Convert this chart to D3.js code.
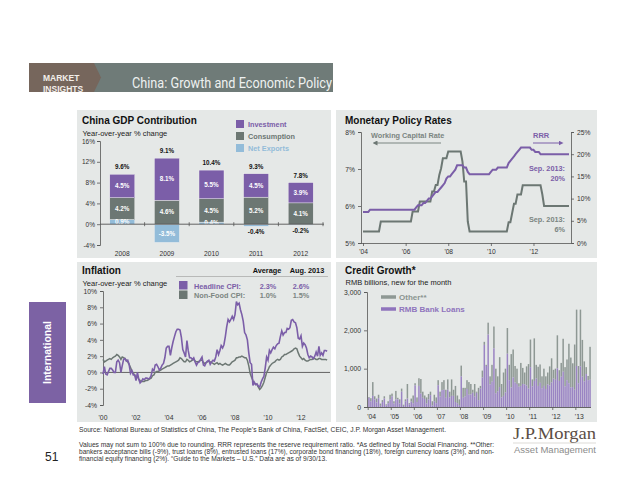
<!DOCTYPE html>
<html><head><meta charset="utf-8">
<script src="https://cdn.jsdelivr.net/npm/d3@7"></script>
<style>
body{margin:0;background:#fff}
svg{display:block;font-family:"Liberation Sans",Arial,sans-serif}
</style>
</head><body>
<svg id="c" width="640" height="495"></svg>
<script>
// ---------------- DATA ----------------
const gdpYears = ["2008","2009","2010","2011","2012"];
const gdpInvestment = [4.5, 8.1, 5.5, 4.5, 3.9];
const gdpConsumption = [4.2, 4.6, 4.5, 5.2, 4.1];
const gdpNetExports = [0.9, -3.5, 0.4, -0.4, -0.2];
const gdpTotal = [9.6, 9.1, 10.4, 9.3, 7.8];
const gdpTicks = [-4, 0, 4, 8, 12, 16];
const gdpLegend = ["Investment", "Consumption", "Net Exports"];

const wcrDates = ["2004-01","2004-10","2004-11","2006-04","2006-05","2006-08","2006-09","2007-03","2007-04","2007-05","2007-06","2007-07","2007-08","2007-09","2007-10","2007-12","2008-01","2008-08","2008-09","2008-10","2008-11","2008-12","2009-01","2010-10","2010-11","2010-12","2011-01","2011-02","2011-03","2011-04","2011-06","2011-07","2012-05","2012-06","2012-07","2013-09"];
const wcrRates = [5.31,5.31,5.58,5.58,5.85,5.85,6.12,6.12,6.39,6.39,6.57,6.57,6.84,7.02,7.29,7.29,7.47,7.47,7.20,6.66,6.66,5.58,5.31,5.31,5.56,5.56,5.81,6.06,6.06,6.31,6.31,6.56,6.56,6.31,6.00,6.00];
const rrrDates = ["2004-01","2004-04","2004-05","2006-06","2006-07","2006-08","2006-10","2006-11","2006-12","2007-01","2007-02","2007-03","2007-04","2007-05","2007-06","2007-07","2007-08","2007-09","2007-10","2007-11","2007-12","2008-01","2008-02","2008-03","2008-04","2008-05","2008-06","2008-09","2008-10","2008-11","2008-12","2009-01","2009-12","2010-01","2010-02","2010-04","2010-05","2010-10","2010-11","2010-12","2011-01","2011-02","2011-03","2011-04","2011-05","2011-06","2011-11","2011-12","2012-01","2012-02","2012-04","2012-05","2013-09"];
const rrrRates = [7.0,7.0,7.5,7.5,8.0,8.5,8.5,9.0,9.0,9.5,10.0,10.0,10.5,11.0,11.5,11.5,12.0,12.5,13.0,13.5,14.5,15.0,15.0,15.5,16.0,16.5,17.5,17.5,17.0,17.0,16.0,15.5,15.5,16.0,16.5,16.5,17.0,17.0,18.0,18.5,19.0,19.5,20.0,20.5,21.0,21.5,21.5,21.0,21.0,20.5,20.5,20.0,20.0];
const rateLeftTicks = [5, 6, 7, 8];
const rateRightTicks = [0, 5, 10, 15, 20, 25];
const rateYearTicks = ["'04","'06","'08","'10","'12"];

// monthly, Jan 2000 .. Aug 2013
const cpiStart = "2000-01";
const cpiHeadline = [
 -0.2,0.7,-0.2,-0.3,0.1,0.5,0.5,0.3,0.0,0.0,1.3,1.5,
 1.2,0.0,0.8,1.6,1.7,1.4,1.5,1.0,-0.1,0.2,-0.3,-0.3,
 -1.0,0.0,-0.8,-1.3,-1.1,-0.8,-0.9,-0.7,-0.7,-0.8,-0.7,-0.4,
 0.4,0.2,0.9,1.0,0.7,0.3,0.5,0.9,1.1,1.8,3.0,3.2,
 3.2,2.1,3.0,3.8,4.4,5.0,5.3,5.3,5.2,4.3,2.8,2.4,
 1.9,3.9,2.7,1.8,1.8,1.6,1.8,1.3,0.9,1.2,1.3,1.6,
 1.9,0.9,0.8,1.2,1.4,1.5,1.0,1.3,1.5,1.4,1.9,2.8,
 2.2,2.7,3.3,3.0,3.4,4.4,5.6,6.5,6.2,6.5,6.9,6.5,
 7.1,8.7,8.3,8.5,7.7,7.1,6.3,4.9,4.6,4.0,2.4,1.2,
 1.0,-1.6,-1.2,-1.5,-1.4,-1.7,-1.8,-1.2,-0.8,-0.5,0.6,1.9,
 1.5,2.7,2.4,2.8,3.1,2.9,3.3,3.5,3.6,4.4,5.1,4.6,
 4.9,4.9,5.4,5.3,5.5,6.4,6.5,6.2,6.1,5.5,4.2,4.1,
 4.5,3.2,3.6,3.4,3.0,2.2,1.8,2.0,1.9,1.7,2.0,2.5,
 2.0,3.2,2.1,2.4,2.1,2.7,2.7,2.6];
const cpiNonFood = [
 1.6,1.3,1.4,1.5,1.6,1.7,1.6,1.8,1.9,2.0,2.2,2.1,
 1.9,1.6,1.9,1.8,1.7,1.5,1.3,1.0,0.6,0.2,-0.1,-0.3,
 -0.6,-0.5,-0.8,-1.0,-1.1,-1.1,-1.1,-1.0,-1.0,-0.9,-0.8,-0.7,
 -0.4,-0.3,0.0,0.1,0.1,0.2,0.3,0.4,0.5,0.6,0.7,0.8,
 0.8,0.9,1.0,1.1,1.2,1.3,1.4,1.5,1.8,1.7,1.5,1.3,
 1.3,1.6,1.5,1.3,1.4,1.5,1.6,1.4,1.3,1.3,1.4,1.5,
 1.5,1.2,1.1,1.2,1.3,1.4,1.3,1.2,1.1,1.0,1.1,1.2,
 1.0,1.1,1.0,0.9,1.0,1.1,1.0,0.9,0.9,1.1,1.3,1.4,
 1.5,1.8,1.8,1.9,1.9,2.0,1.9,1.8,1.8,1.5,0.8,-0.1,
 -0.6,-1.0,-1.3,-1.4,-1.5,-1.8,-2.1,-1.9,-1.6,-1.2,-0.6,0.0,
 0.3,0.7,0.9,1.1,1.2,1.3,1.5,1.6,1.5,1.6,1.9,2.0,
 2.2,2.2,2.3,2.4,2.5,2.6,2.7,2.9,3.0,2.9,2.4,2.0,
 1.8,1.6,1.7,1.5,1.4,1.4,1.5,1.6,1.6,1.7,1.7,1.6,
 1.6,1.7,1.7,1.6,1.6,1.6,1.6,1.5];
const cpiTicks = [-4,-2,0,2,4,6,8,10];
const cpiYearTicks = ["'00","'02","'04","'06","'08","'10","'12"];
const cpiLegendNames = ["Headline CPI:", "Non-Food CPI:"];
const cpiAverage = ["2.3%", "1.0%"];
const cpiLatest = ["2.6%", "1.5%"];

// monthly, Jan 2004 .. Aug 2013, RMB bn
const creditStart = "2004-01";
const bankLoans = [
 240,150,290,200,120,230,30,130,220,40,100,200,
 280,90,200,200,90,400,30,150,220,70,140,100,
 565,130,550,350,240,210,90,200,310,40,150,100,
 570,270,440,450,240,450,250,290,290,130,100,50,
 800,240,280,470,320,330,370,270,370,180,480,770,
 1620,1070,1890,590,660,1530,360,410,520,250,290,380,
 1390,700,510,770,640,600,530,550,600,590,560,480,
 1040,540,680,740,550,630,490,550,470,590,560,640,
 740,710,1010,680,790,920,540,700,620,510,520,450,
 1070,620,1060,790,670,860,700,710];
const otherFinancing = [
 20,80,360,80,100,90,60,50,60,30,50,120,
 70,60,220,40,110,80,30,50,380,30,80,200,
 55,120,200,380,160,90,160,140,90,110,170,150,
 130,130,210,250,210,270,150,430,160,420,200,150,
 280,260,220,230,330,270,80,330,30,320,70,180,
 80,30,310,210,440,570,640,390,780,350,610,620,
 670,400,870,730,430,400,90,600,420,310,500,640,
 720,180,1110,360,500,480,310,450,330,310,500,630,
 230,290,860,280,360,860,500,540,1030,780,620,1180,
 1470,450,1480,960,520,180,110,860];
const creditTicks = [0,1000,2000,3000];
const creditYearTicks = ["'04","'05","'06","'07","'08","'09","'10","'11","'12","'13"];
const creditLegend = ["Other**", "RMB Bank Loans"];

// ---------------- STYLE ----------------
const PURPLE = "#7b5ea8", GREY = "#6c7773", LBLUE = "#93bcd9";
const BPURPLE = "#9a84c3", BGREY = "#8e9894";
const PANEL = "#e5e8e7", AX = "#555", TXT = "#333";

const svg = d3.select("#c");
const parseM = d3.timeParse("%Y-%m");

function styleAxis(g, fs) {
  g.attr("font-family", null).attr("font-size", fs);
  g.selectAll("text").attr("fill", TXT);
  g.selectAll("line").attr("stroke", AX).attr("stroke-width", 0.8);
  g.select(".domain").attr("stroke", AX).attr("stroke-width", 0.8);
}

// ---------------- HEADER ----------------
svg.append("clipPath").attr("id","hdr").append("rect").attr("x",29).attr("y",63).attr("width",304).attr("height",29);
const hdr = svg.append("g").attr("clip-path","url(#hdr)");
hdr.append("rect").attr("x",90).attr("y",63).attr("width",243).attr("height",29).attr("fill","#6f7b78");
hdr.append("polygon").attr("points","29,63 94,63 101,77.5 94,92 29,92").attr("fill","#76665c");
hdr.append("text").attr("x",43).attr("y",80.5).attr("font-size",8.5).attr("font-weight","bold").attr("fill","#f3eee9").text("MARKET");
hdr.append("text").attr("x",43).attr("y",91.5).attr("font-size",8.5).attr("font-weight","bold").attr("fill","#f3eee9").text("INSIGHTS");
hdr.append("text").attr("x",132).attr("y",88).attr("font-size",15)
  .attr("font-family","'Liberation Sans Narrow',Roboto,sans-serif")
  .attr("textLength",200).attr("lengthAdjust","spacingAndGlyphs")
  .attr("fill","#eef1f0").text("China: Growth and Economic Policy");

// side tab
svg.append("rect").attr("x",29).attr("y",302).attr("width",37).attr("height",101).attr("fill","#7c62a4");
svg.append("text").attr("transform","translate(51,352.5) rotate(-90)").attr("text-anchor","middle")
  .attr("font-size",10.5).attr("font-weight","bold").attr("fill","#fff").text("International");

// panels
[[77,110,254,148],[336,110,261,148],[77,262,254,160],[336,262,261,160]].forEach(p=>{
  svg.append("rect").attr("x",p[0]).attr("y",p[1]).attr("width",p[2]).attr("height",p[3]).attr("fill",PANEL);
});

function titles(x, y, t, s, sy) {
  svg.append("text").attr("x",x).attr("y",y).attr("font-size",10).attr("font-weight","bold").attr("fill","#111").text(t);
  if (s) svg.append("text").attr("x",x+0.5).attr("y",sy).attr("font-size",7.5).attr("fill","#222").text(s);
}

// ---------------- PANEL 1: GDP ----------------
titles(82, 124, "China GDP Contribution", "Year-over-year % change", 135.5);
{
  const x = d3.scaleBand().domain(gdpYears).range([100,323]).paddingInner(0.44).paddingOuter(0.22);
  const y = d3.scaleLinear().domain([-4,16]).range([245,141]);
  const g = svg.append("g");
  gdpYears.forEach((yr,i)=>{
    const ne = gdpNetExports[i], c = gdpConsumption[i], inv = gdpInvestment[i];
    const base = ne > 0 ? ne : 0;
    const segs = [
      {lo: Math.min(0,ne), hi: Math.max(0,ne), col: LBLUE, v: ne},
      {lo: base, hi: base + c, col: GREY, v: c},
      {lo: base + c, hi: base + c + inv, col: PURPLE, v: inv}
    ];
    segs.forEach(s=>{
      g.append("rect").attr("x",x(yr)).attr("width",x.bandwidth())
        .attr("y",y(s.hi)).attr("height",y(s.lo)-y(s.hi)).attr("fill",s.col)
        .attr("stroke","#f4f4f4").attr("stroke-width",0.4);
    });
    const cx = x(yr) + x.bandwidth()/2;
    const lab = (yy, txt, col) => g.append("text").attr("x",cx).attr("y",yy).attr("text-anchor","middle")
      .attr("font-size",6.3).attr("font-weight","bold").attr("fill",col).text(txt);
    lab(y((segs[2].lo+segs[2].hi)/2)+2.2, inv.toFixed(1)+"%", "#fff");
    lab(y((segs[1].lo+segs[1].hi)/2)+2.2, c.toFixed(1)+"%", "#fff");
    if (ne > 0) lab(y(ne/2)+2.2, ne.toFixed(1)+"%", "#fff");
    else if (ne < -1) lab(y(ne/2)+2.2, ne.toFixed(1)+"%", "#fff");
    else lab(y(ne)+7.5, ne.toFixed(1)+"%", "#111");
    lab(y(segs[2].hi)-5, gdpTotal[i].toFixed(1)+"%", "#111");
  });
  const ya = svg.append("g").attr("transform","translate(100,0)")
    .call(d3.axisLeft(y).tickValues(gdpTicks).tickSize(3).tickPadding(2).tickFormat(d=>d+"%"));
  styleAxis(ya, 6.5);
  // zero axis
  svg.append("line").attr("x1",100).attr("x2",324).attr("y1",y(0)).attr("y2",y(0)).attr("stroke",AX).attr("stroke-width",0.9);
  const step = x.step();
  d3.range(1,6).forEach(k=>{
    const tx = 100 + k*step;
    svg.append("line").attr("x1",tx).attr("x2",tx).attr("y1",y(0)-2).attr("y2",y(0)+2).attr("stroke",AX).attr("stroke-width",0.8);
  });
  gdpYears.forEach(yr=>{
    svg.append("text").attr("x",x(yr)+x.bandwidth()/2).attr("y",256).attr("text-anchor","middle")
      .attr("font-size",6.7).attr("fill",TXT).text(yr);
  });
  // legend
  const lc = [PURPLE, GREY, LBLUE];
  gdpLegend.forEach((n,i)=>{
    svg.append("rect").attr("x",236).attr("y",120+i*12).attr("width",8).attr("height",8).attr("fill",lc[i]);
    svg.append("text").attr("x",248).attr("y",127+i*12).attr("font-size",7.3).attr("font-weight","bold").attr("fill",lc[i]).text(n);
  });
}

// ---------------- PANEL 2: MONETARY ----------------
titles(345, 124, "Monetary Policy Rates");
{
  const x = d3.scaleTime().domain([parseM("2004-01"), parseM("2013-09")]).range([363,569]);
  const yl = d3.scaleLinear().domain([5,8]).range([243,132]);
  const yr = d3.scaleLinear().domain([0,25]).range([243,132]);
  const la = svg.append("g").attr("transform","translate(361,0)")
    .call(d3.axisLeft(yl).tickValues(rateLeftTicks).tickSize(3).tickPadding(3).tickFormat(d=>d+"%"));
  styleAxis(la, 6.7);
  const ra = svg.append("g").attr("transform","translate(571,0)")
    .call(d3.axisRight(yr).tickValues(rateRightTicks).tickSize(3).tickPadding(3).tickFormat(d=>d+"%"));
  styleAxis(ra, 6.7);
  const yearDates = rateYearTicks.map(t=>parseM("20"+t.slice(1)+"-01"));
  const ba = svg.append("g").attr("transform","translate(0,243)")
    .call(d3.axisBottom(x).tickValues(yearDates).tickSize(3).tickPadding(3).tickFormat((d,i)=>rateYearTicks[i]));
  styleAxis(ba, 6.7);
  ba.select(".domain").attr("d","M361,0.5H571");
  const lineL = d3.line().x(d=>x(d[0])).y(d=>yl(d[1]));
  const lineR = d3.line().x(d=>x(d[0])).y(d=>yr(d[1]));
  svg.append("path").datum(wcrDates.map((d,i)=>[parseM(d), wcrRates[i]]))
    .attr("d",lineL).attr("fill","none").attr("stroke",GREY).attr("stroke-width",2);
  svg.append("path").datum(rrrDates.map((d,i)=>[parseM(d), rrrRates[i]]))
    .attr("d",lineR).attr("fill","none").attr("stroke",PURPLE).attr("stroke-width",2);
  // annotations
  svg.append("defs").html(
    '<marker id="ag" viewBox="0 0 10 10" refX="5" refY="5" markerWidth="5" markerHeight="5" orient="auto-start-reverse"><path d="M0,0L10,5L0,10z" fill="'+GREY+'"/></marker>'+
    '<marker id="ap" viewBox="0 0 10 10" refX="5" refY="5" markerWidth="5" markerHeight="5" orient="auto-start-reverse"><path d="M0,0L10,5L0,10z" fill="'+PURPLE+'"/></marker>');
  svg.append("text").attr("x",371).attr("y",137.5).attr("font-size",7.3).attr("font-weight","bold").attr("fill","#7b8581").text("Working Capital Rate");
  svg.append("line").attr("x1",441).attr("x2",375).attr("y1",143).attr("y2",143).attr("stroke","#7b8581").attr("stroke-width",1).attr("marker-end","url(#ag)");
  svg.append("text").attr("x",533).attr("y",137.5).attr("font-size",7.5).attr("font-weight","bold").attr("fill",PURPLE).text("RRR");
  svg.append("line").attr("x1",533).attr("x2",561).attr("y1",143).attr("y2",143).attr("stroke",PURPLE).attr("stroke-width",1).attr("marker-end","url(#ap)");
  const ann = (yy, t, c) => svg.append("text").attr("x",565).attr("y",yy).attr("text-anchor","end")
    .attr("font-size",7.3).attr("font-weight","bold").attr("fill",c).text(t);
  ann(170.5, "Sep. 2013:", PURPLE); ann(180.5, "20%", PURPLE);
  ann(221.5, "Sep. 2013:", "#7b8581"); ann(231.5, "6%", "#7b8581");
}

// ---------------- PANEL 3: INFLATION ----------------
titles(82, 274, "Inflation", "Year-over-year % change", 285.5);
{
  const t0 = parseM(cpiStart);
  const months = cpiHeadline.map((_,i)=>d3.timeMonth.offset(t0, i));
  const x = d3.scaleTime().domain([parseM("2000-01"), parseM("2012-01")]).range([103,301]);
  const y = d3.scaleLinear().domain([-4,10]).range([405,291]);
  const ya = svg.append("g").attr("transform","translate(103,0)")
    .call(d3.axisLeft(y).tickValues(cpiTicks).tickSize(3).tickPadding(3).tickFormat(d=>d+"%"));
  styleAxis(ya, 6.8);
  svg.append("line").attr("x1",103).attr("x2",330).attr("y1",y(0)).attr("y2",y(0)).attr("stroke",AX).attr("stroke-width",0.9);
  cpiYearTicks.forEach(t=>{
    svg.append("text").attr("x",x(parseM("20"+t.slice(1)+"-01"))).attr("y",420).attr("text-anchor","middle")
      .attr("font-size",6.8).attr("fill",TXT).text(t);
  });
  const line = d3.line().x((d,i)=>x(months[i])).y(d=>y(d));
  svg.append("path").datum(cpiNonFood).attr("d",line).attr("fill","none").attr("stroke",GREY).attr("stroke-width",1.5);
  svg.append("path").datum(cpiHeadline).attr("d",line).attr("fill","none").attr("stroke",PURPLE).attr("stroke-width",1.6);
  // legend table
  svg.append("text").attr("x",267).attr("y",272.5).attr("text-anchor","middle").attr("font-size",7.3).attr("font-weight","bold").attr("fill","#111").text("Average");
  svg.append("text").attr("x",307).attr("y",272.5).attr("text-anchor","middle").attr("font-size",7.3).attr("font-weight","bold").attr("fill","#111").text("Aug. 2013");
  svg.append("line").attr("x1",176).attr("x2",328).attr("y1",276.5).attr("y2",276.5).attr("stroke","#999").attr("stroke-width",0.6);
  const cols = [PURPLE, "#7b8581"];
  cpiLegendNames.forEach((n,i)=>{
    const yy = 288.5 + i*9.5;
    svg.append("rect").attr("x",179).attr("y",yy-7.5).attr("width",8.5).attr("height",8.5).attr("fill",i?GREY:PURPLE);
    svg.append("text").attr("x",194).attr("y",yy).attr("font-size",7.3).attr("font-weight","bold").attr("fill",cols[i]).text(n);
    svg.append("text").attr("x",268).attr("y",yy).attr("text-anchor","middle").attr("font-size",7.3).attr("font-weight","bold").attr("fill",cols[i]).text(cpiAverage[i]);
    svg.append("text").attr("x",301).attr("y",yy).attr("text-anchor","middle").attr("font-size",7.3).attr("font-weight","bold").attr("fill",cols[i]).text(cpiLatest[i]);
  });
}

// ---------------- PANEL 4: CREDIT ----------------
titles(345, 274, "Credit Growth*", "RMB billions, new for the month", 285);
{
  const t0 = parseM(creditStart);
  const months = bankLoans.map((_,i)=>d3.timeMonth.offset(t0, i));
  const x = d3.scaleBand().domain(months.map(d=>+d)).range([368,591]).paddingInner(0.22).paddingOuter(0.1);
  const y = d3.scaleLinear().domain([0,3000]).range([407,292]);
  const g = svg.append("g");
  months.forEach((m,i)=>{
    const lo = bankLoans[i], ot = otherFinancing[i];
    g.append("rect").attr("x",x(+m)).attr("width",x.bandwidth()).attr("y",y(lo+ot)).attr("height",y(lo)-y(lo+ot)).attr("fill",BGREY);
    g.append("rect").attr("x",x(+m)).attr("width",x.bandwidth()).attr("y",y(lo)).attr("height",y(0)-y(lo)).attr("fill",BPURPLE);
  });
  const ya = svg.append("g").attr("transform","translate(367,0)")
    .call(d3.axisLeft(y).tickValues(creditTicks).tickSize(3).tickPadding(3).tickFormat(d3.format(",")));
  styleAxis(ya, 6.8);
  svg.append("line").attr("x1",367).attr("x2",591).attr("y1",407.5).attr("y2",407.5).attr("stroke",AX).attr("stroke-width",0.9);
  creditYearTicks.forEach(t=>{
    const xx = x(+parseM("20"+t.slice(1)+"-01"));
    svg.append("line").attr("x1",xx).attr("x2",xx).attr("y1",407.5).attr("y2",410).attr("stroke",AX).attr("stroke-width",0.8);
    svg.append("text").attr("x",xx-1).attr("y",419).attr("font-size",6.8).attr("fill",TXT).text(t);
  });
  const lc = [BGREY, "#8f74bd"], tc = ["#8a9490", "#8f74bd"];
  creditLegend.forEach((n,i)=>{
    const yy = 297 + i*12;
    svg.append("line").attr("x1",381).attr("x2",396).attr("y1",yy).attr("y2",yy).attr("stroke",lc[i]).attr("stroke-width",3.5);
    svg.append("text").attr("x",399).attr("y",yy+3).attr("font-size",8).attr("font-weight","bold").attr("fill",tc[i]).text(n);
  });
}

// ---------------- FOOTER ----------------
const foot = [
  [432, "Source: National Bureau of Statistics of China, The People\u2019s Bank of China, FactSet, CEIC, J.P. Morgan Asset Management.", 367],
  [447, "Values may not sum to 100% due to rounding. RRR represents the reserve requirement ratio. *As defined by Total Social Financing. **Other:", 415],
  [454, "bankers acceptance bills (-9%), trust loans (8%), entrusted loans (17%), corporate bond financing (18%), foreign currency loans (3%), and non-", 415],
  [461, "financial equity financing (2%). \u201cGuide to the Markets \u2013 U.S.\u201d Data are as of 9/30/13.", 248]
];
foot.forEach(f=>{
  svg.append("text").attr("x",79).attr("y",f[0]).attr("font-size",6.3).attr("fill","#333")
    .attr("textLength",f[2]).attr("lengthAdjust","spacingAndGlyphs").text(f[1]);
});
svg.append("text").attr("x",45).attr("y",461).attr("font-size",12).attr("fill","#222").text("51");
svg.append("text").attr("x",513).attr("y",439).attr("font-size",17).attr("font-family","'Liberation Serif','DejaVu Serif',serif")
  .attr("textLength",83).attr("lengthAdjust","spacingAndGlyphs").attr("fill","#5b4d45").text("J.P.Morgan");
svg.append("line").attr("x1",513).attr("x2",596).attr("y1",443).attr("y2",443).attr("stroke","#c8c2bd").attr("stroke-width",0.6);
svg.append("text").attr("x",514).attr("y",452.5).attr("font-size",9).attr("font-family","'Liberation Sans Narrow','Liberation Sans',sans-serif")
  .attr("textLength",82).attr("lengthAdjust","spacingAndGlyphs").attr("fill","#8c8c8c").text("Asset Management");
</script>
</body></html>
